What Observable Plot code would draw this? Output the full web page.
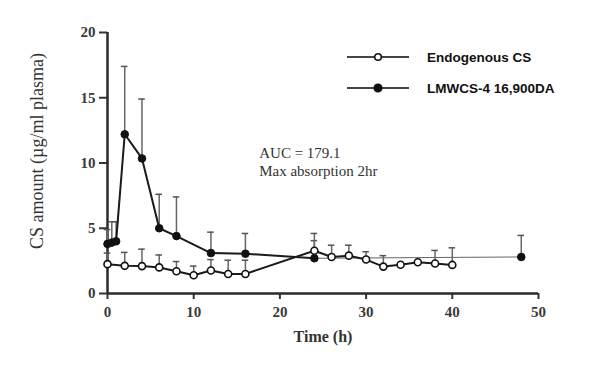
<!DOCTYPE html>
<html>
<head>
<meta charset="utf-8">
<script src="https://cdn.jsdelivr.net/npm/d3@7"></script>
<script src="https://cdn.jsdelivr.net/npm/@observablehq/plot@0.6"></script>
<style>
  html, body { margin: 0; padding: 0; background: #fff; -webkit-font-smoothing: antialiased; }
  #wrap { position: relative; width: 592px; height: 378px; }
  #ylabel { position: absolute; left: 37px; top: 151px; transform: translate(-50%, -50%) rotate(-90deg);
    font-family: "Liberation Serif", serif; font-size: 18px; color: #333; white-space: nowrap; }
  #xlabel { position: absolute; left: 323px; top: 337px; transform: translate(-50%, -50%);
    font-family: "Liberation Serif", serif; font-weight: bold; font-size: 16px; color: #333; white-space: nowrap; }
  .leg { position: absolute; left: 346px; display: flex; align-items: center; font-family: "Liberation Sans", Arial, sans-serif;
    font-weight: bold; font-size: 13.5px; color: #111; white-space: nowrap; }
  .leg svg { margin-right: 17px; }
</style>
</head>
<body>
<div id="wrap"></div>
<script>
// ---- data ----
const endoTime  = [0, 2, 4, 6, 8, 10, 12, 14, 16, 24, 26, 28, 30, 32, 34, 36, 38, 40];
const endoMean  = [2.25, 2.12, 2.1, 2.0, 1.7, 1.4, 1.76, 1.5, 1.5, 3.28, 2.8, 2.9, 2.6, 2.06, 2.2, 2.39, 2.3, 2.19];
const endoUpper = [3.1, 3.15, 3.4, 2.95, 2.45, 2.1, 2.6, 2.55, 2.55, 4.6, 3.7, 3.7, 3.2, 2.9, null, null, 3.3, 3.5];

const lmTime  = [0, 0.5, 1, 2, 4, 6, 8, 12, 16, 24, 48];
const lmMean  = [3.8, 3.9, 4.0, 12.2, 10.35, 5.0, 4.4, 3.1, 3.05, 2.7, 2.8];
const lmUpper = [4.9, 5.5, 5.5, 17.4, 14.9, 7.6, 7.4, 4.7, 4.6, 4.05, 4.45];

const xTicks = [0, 10, 20, 30, 40, 50];
const yTicks = [0, 5, 10, 15, 20];
const seriesNames = ["Endogenous CS", "LMWCS-4 16,900DA"];
const annotation = ["AUC = 179.1", "Max absorption 2hr"];
const annotX = [17.6];
const annotY = [11.3];

// ---- tables ----
const endo = endoTime.map((t, i) => ({t, v: endoMean[i], hi: endoUpper[i]}));
const lm = lmTime.map((t, i) => ({t, v: lmMean[i], hi: lmUpper[i]}));
const lmEarly = lm.filter(d => d.t <= 24);
const lmLate = lm.filter(d => d.t >= 24);
const endoErr = endo.filter(d => d.hi != null);
const capHalf = 0.38;

const chart = Plot.plot({
  width: 592, height: 378,
  marginLeft: 107, marginRight: 54, marginTop: 32, marginBottom: 85,
  x: {domain: [0, 50]},
  y: {domain: [0, 20]},
  style: {fontFamily: "Liberation Serif, serif", fontSize: "15px", fontWeight: "bold", color: "#3a3a3a", background: "#fff"},
  marks: [
    Plot.axisY({ticks: yTicks, tickSize: 8, tickPadding: 4, label: null, strokeWidth: 2, stroke: "#333"}),
    Plot.axisX({ticks: xTicks, tickSize: 6, tickPadding: 7, label: null, strokeWidth: 2, stroke: "#333"}),
    Plot.ruleX([0], {y1: 0, y2: 20, stroke: "#2a2a2a", strokeWidth: 2.5}),
    Plot.ruleY([0], {x1: 0, x2: 50, stroke: "#2a2a2a", strokeWidth: 2.5}),
    // error bars
    Plot.ruleX(lm, {x: "t", y1: "v", y2: "hi", stroke: "#666", strokeWidth: 1.5}),
    Plot.ruleY(lm, {y: "hi", x1: d => d.t - capHalf, x2: d => d.t + capHalf, stroke: "#555", strokeWidth: 1.5}),
    Plot.ruleX(endoErr, {x: "t", y1: "v", y2: "hi", stroke: "#666", strokeWidth: 1.5}),
    Plot.ruleY(endoErr, {y: "hi", x1: d => d.t - capHalf, x2: d => d.t + capHalf, stroke: "#555", strokeWidth: 1.5}),
    // lines
    Plot.line(lmEarly, {x: "t", y: "v", stroke: "#1a1a1a", strokeWidth: 2}),
    Plot.line(lmLate, {x: "t", y: "v", stroke: "#666", strokeWidth: 1}),
    Plot.line(endo, {x: "t", y: "v", stroke: "#1a1a1a", strokeWidth: 2}),
    // points
    Plot.dot(lm, {x: "t", y: "v", r: 3.8, fill: "#111", stroke: "#111", strokeWidth: 1}),
    Plot.dot(endo, {x: "t", y: "v", r: 3.5, fill: "#fff", stroke: "#111", strokeWidth: 1.6}),
    // annotation
    Plot.text([annotation.join("\n")], {x: () => annotX[0], y: () => annotY[0], text: d => d,
      textAnchor: "start", lineAnchor: "top", lineHeight: 1.15, fontSize: 15, fontWeight: "normal",
      fontFamily: "Liberation Serif, serif", fill: "#333"})
  ]
});

const wrap = document.getElementById("wrap");
wrap.appendChild(chart);

const yl = document.createElement("div");
yl.id = "ylabel"; yl.textContent = "CS amount (µg/ml plasma)";
wrap.appendChild(yl);
const xl = document.createElement("div");
xl.id = "xlabel"; xl.textContent = "Time (h)";
wrap.appendChild(xl);

const legTops = [57, 88];
seriesNames.forEach((name, i) => {
  const d = document.createElement("div");
  d.className = "leg";
  d.style.top = (legTops[i] - 8) + "px";
  const filled = i === 1;
  d.innerHTML = `<svg width="64" height="16"><line x1="1" y1="8" x2="63" y2="8" stroke="#444" stroke-width="2"/>` +
    `<circle cx="32" cy="8" r="${filled ? 3.8 : 3.3}" fill="${filled ? '#111' : '#fff'}" stroke="#111" stroke-width="1.6"/></svg>` +
    `<span>${name}</span>`;
  wrap.appendChild(d);
});
</script>
</body>
</html>
